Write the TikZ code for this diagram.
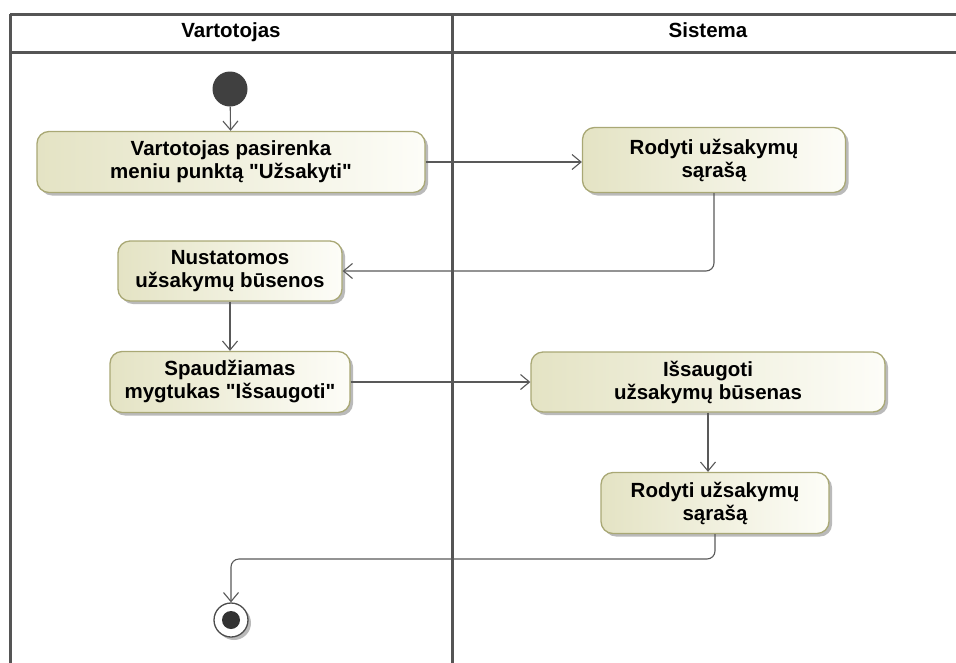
\documentclass[tikz,border=0pt]{standalone}
\usepackage{fontspec}
\setmainfont{Liberation Sans}[Ligatures=TeXOff]
\usetikzlibrary{arrows.meta}
\usetikzlibrary{shadows}
\definecolor{actleft}{HTML}{E4E3C4}
\definecolor{actright}{HTML}{FDFDF8}
\definecolor{actborder}{HTML}{A9A875}
\definecolor{laneline}{HTML}{555555}
\tikzset{
x=1pt, y=-1pt, % one unit is one pixel of the picture
every node/.style={font=\bfseries\fontsize{20.5}{23}\selectfont},
action/.style={draw=actborder, line width=1.3pt, rounded corners=12pt, left color=actleft, right color=actright, align=center, inner sep=0pt, drop shadow={shadow xshift=3pt, shadow yshift=-3pt, fill=black!45, opacity=0.6}}, % the activity boxes
flow/.style={draw=black!65, line width=1.1pt, -{Straight Barb[length=9pt,width=15pt,line width=1.1pt]}}, % control flow
lane/.style={draw=laneline, line width=3pt}, % swimlane borders
}

\begin{document}
\begin{tikzpicture}
\useasboundingbox (0,0) rectangle (956,662);
% swimlanes
\draw[lane] (10,14) -- (975,14);
\draw[lane] (10,52) -- (975,52);
\draw[lane] (10,14) -- (10,675);
\draw[lane] (452,14) -- (452,675);
\node[anchor=base] (LANE1) at (231,37) {Vartotojas};
\node[anchor=base] (LANE2) at (708,37) {Sistema};
% states
\node[circle, fill=black!75, minimum size=35pt, inner sep=0pt] (INIT) at (230,89) {};
\node[action, minimum width=388pt, minimum height=61pt] (MENU) at (231,162) {Vartotojas pasirenka\\meniu punktą "Užsakyti"};
\node[action, minimum width=263pt, minimum height=65pt] (SHOW) at (714,160) {Rodyti užsakymų\\sąrašą};
\node[action, minimum width=224pt, minimum height=60pt] (STATUS) at (230,271) {Nustatomos\\užsakymų būsenos};
\node[action, minimum width=240pt, minimum height=61pt] (PRESS) at (230,382) {Spaudžiamas\\mygtukas "Išsaugoti"};
\node[action, minimum width=354pt, minimum height=60pt] (SAVE) at (708,382) {Išsaugoti\\užsakymų būsenas};
\node[action, minimum width=228pt, minimum height=61pt] (SHOW2) at (715,503) {Rodyti užsakymų\\sąrašą};
\node[circle, draw=black!70, line width=1.3pt, fill=white, minimum size=34pt, inner sep=0pt, drop shadow={shadow xshift=3pt, shadow yshift=-3pt, fill=black!45, opacity=0.6}] (FINAL) at (231,620) {};
\fill[black!80] (FINAL) circle (9);
\coordinate (TURN) at (231,559);
% transitions
\draw[flow] (INIT) -- (MENU);
\draw[flow] (MENU.east) -- (MENU.east -| SHOW.west);
\draw[flow, rounded corners=8pt] (SHOW.south) |- (STATUS.east);
\draw[flow] (STATUS) -- (PRESS);
\draw[flow] (PRESS) -- (SAVE);
\draw[flow] (SAVE.south) -- (SAVE.south |- SHOW2.north);
\draw[flow, rounded corners=8pt] (SHOW2.south) |- (TURN) -- (FINAL);
\end{tikzpicture}
\end{document}
